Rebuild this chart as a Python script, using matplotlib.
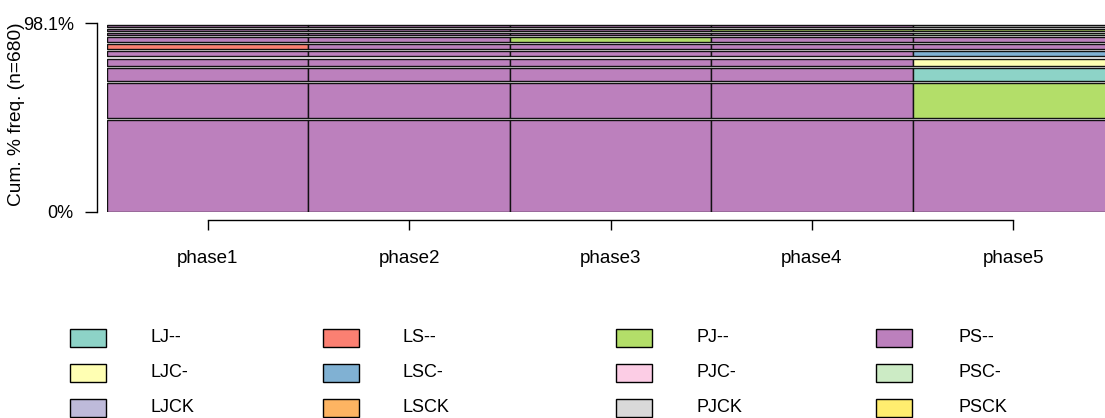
# Gráfica de frecuencias de secuencias (estilo seqfplot de TraMineR)
import matplotlib.pyplot as plt
from matplotlib.patches import Rectangle

plt.rcParams['font.family'] = ['Liberation Sans', 'DejaVu Sans']

# --- datos ---
n_total = 680
phases = ["phase1", "phase2", "phase3", "phase4", "phase5"]

states = ["LJ--", "LJC-", "LJCK", "LS--", "LSC-", "LSCK",
          "PJ--", "PJC-", "PJCK", "PS--", "PSC-", "PSCK"]
state_colors = ["#8DD3C7", "#FFFFB3", "#BEBADA", "#FB8072", "#80B1D3", "#FDB462",
                "#B3DE69", "#FCCDE5", "#D9D9D9", "#BC80BD", "#CCEBC5", "#FFED6F"]

# 10 secuencias más frecuentes (de abajo hacia arriba)
sequences = [
    ["PS--", "PS--", "PS--", "PS--", "PS--"],
    ["PS--", "PS--", "PS--", "PS--", "PJ--"],
    ["PS--", "PS--", "PS--", "PS--", "LJ--"],
    ["PS--", "PS--", "PS--", "PS--", "LJC-"],
    ["PS--", "PS--", "PS--", "PS--", "LSC-"],
    ["LS--", "PS--", "PS--", "PS--", "PS--"],
    ["PS--", "PS--", "PJ--", "PS--", "PS--"],
    ["PS--", "PS--", "PS--", "PS--", "PSC-"],
    ["PS--", "PS--", "PS--", "PJ--", "PJ--"],
    ["PS--", "PS--", "PS--", "PS--", "PJCK"],
]
counts = [333, 129, 55, 32, 26, 26, 25, 14, 14, 13]

color_of = dict(zip(states, state_colors))

W, H = 1105, 418
fig = plt.figure(figsize=(W / 100, H / 100), dpi=100)

# ejes: cada fase ocupa ~201 px, el panel empieza en x=107
left_px, right_px = 107, 1114
top_px, bottom_px = 23, 212
ax = fig.add_axes([left_px / W, 1 - bottom_px / H,
                   (right_px - left_px) / W, (bottom_px - top_px) / H])

pct = [c / n_total * 100 for c in counts]
total_pct = sum(pct)
px_per_pct = (bottom_px - top_px) / total_pct
gap = 2.4 / px_per_pct

bottom = 0
for seq, p in zip(sequences, pct):
    for j, st in enumerate(seq):
        ax.bar(j + 0.5, p - gap, bottom=bottom, width=1,
               color=color_of[st], edgecolor="#111111", linewidth=1.0)
    bottom += p

ax.set_xlim(0, len(phases))
ax.set_ylim(0, total_pct)

for s in ["top", "right"]:
    ax.spines[s].set_visible(False)
ax.spines["left"].set_position(("outward", 7.5))
ax.spines["left"].set_bounds(0, total_pct)
ax.spines["bottom"].set_position(("outward", 6))
ax.spines["bottom"].set_bounds(0.5, len(phases) - 0.5)
for s in ["left", "bottom"]:
    ax.spines[s].set_linewidth(1.0)

ax.set_yticks([0, total_pct])
ax.set_yticklabels(["0%", f"{total_pct:.1f}%"])
ax.set_xticks([j + 0.5 for j in range(len(phases))])
ax.set_xticklabels(phases)
ax.tick_params(axis="y", length=8.5, width=1.0, pad=8, labelsize=13)
ax.tick_params(axis="x", length=7.5, width=1.0, pad=14, labelsize=13.5)
ax.set_ylabel(f"Cum. % freq. (n={n_total})", fontsize=13.8)
ax.yaxis.set_label_coords((25 - left_px) / (right_px - left_px), 0.52)

# --- leyenda manual (4 columnas x 3 filas) ---
patch_x = [70, 323, 616, 876]
text_x = [150, 402, 697, 958]
row_y = [338, 372.5, 407.5]
pw, ph = 36, 18
for k, (st, col) in enumerate(zip(states, state_colors)):
    c, r = k // 3, k % 3
    x0 = patch_x[c]
    y0 = row_y[r]
    fig.patches.append(Rectangle((x0 / W, 1 - (y0 + ph / 2) / H), pw / W, ph / H,
                                 transform=fig.transFigure, facecolor=col,
                                 edgecolor="black", linewidth=1.0))
    fig.text(text_x[c] / W, 1 - y0 / H, st, fontsize=13, va="center", ha="left")

fig.savefig("out.png", dpi=100)
